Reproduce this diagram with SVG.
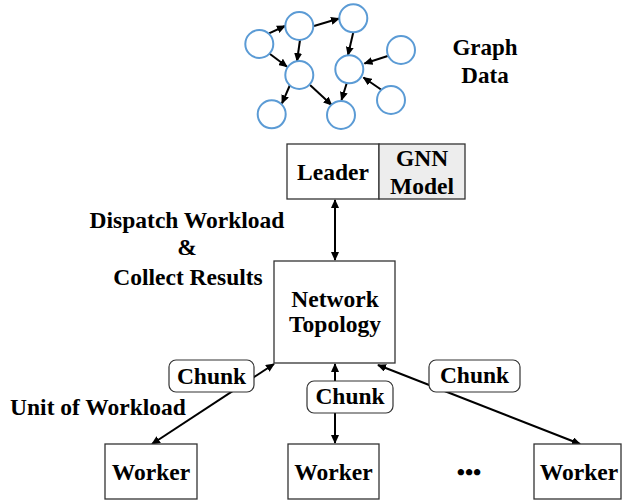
<svg xmlns="http://www.w3.org/2000/svg" width="623" height="502" viewBox="0 0 623 502">
<style>
.t{font-family:"Liberation Serif","Times New Roman",serif;font-weight:bold;font-size:23.5px;fill:#000;text-anchor:middle}
.box{fill:#fff;stroke:#333;stroke-width:1.3}
.lbl{fill:#fff;stroke:#333;stroke-width:1.2}
.n{fill:#fff;stroke:#5b9bd5;stroke-width:2}
.e{stroke:#000;stroke-width:2;fill:none;marker-end:url(#ah)}
.c{stroke:#000;stroke-width:2;fill:none;marker-end:url(#ah);marker-start:url(#ah)}
</style>
<defs>
<marker id="ah" markerWidth="9" markerHeight="8" refX="8" refY="4" orient="auto-start-reverse" markerUnits="userSpaceOnUse">
<path d="M0,0 L9,4 L0,8 Z" fill="#000"/>
</marker>
</defs>
<g id="graph-data">
<g id="graph-edges">
<line class="e" x1="269" y1="33.3" x2="285" y2="26"/>
<line class="e" x1="314" y1="26" x2="339" y2="18.5"/>
<line class="e" x1="300" y1="40" x2="297" y2="61"/>
<line class="e" x1="269" y1="53.3" x2="287" y2="66.7"/>
<line class="e" x1="353.3" y1="32.3" x2="348" y2="55"/>
<line class="e" x1="387.7" y1="56" x2="364.5" y2="63.5"/>
<line class="e" x1="381.7" y1="90" x2="363.5" y2="77.5"/>
<line class="e" x1="290" y1="85" x2="282" y2="103.3"/>
<line class="e" x1="310" y1="85" x2="331.7" y2="105"/>
<line class="e" x1="346.7" y1="83.3" x2="341.5" y2="100"/>
</g>
<circle class="n" cx="259.3" cy="44" r="14"/>
<circle class="n" cx="299.3" cy="26" r="14"/>
<circle class="n" cx="353.3" cy="18.3" r="14"/>
<circle class="n" cx="401" cy="50" r="14"/>
<circle class="n" cx="299.3" cy="75" r="14"/>
<circle class="n" cx="349.3" cy="69.3" r="14"/>
<circle class="n" cx="391" cy="100" r="14"/>
<circle class="n" cx="271.7" cy="114.3" r="14"/>
<circle class="n" cx="341" cy="115" r="14"/>
<text class="t" x="485" y="55" style="font-size:23px">Graph</text>
<text class="t" x="485" y="83" style="font-size:23px">Data</text>
</g>
<g id="connectors">
<line class="c" x1="335" y1="200" x2="335" y2="260"/>
<line class="c" x1="274" y1="364" x2="152" y2="444"/>
<line class="c" x1="335" y1="364" x2="335" y2="443"/>
<line class="c" x1="378" y1="365" x2="580" y2="444"/>
</g>
<g id="leader">
<rect class="box" x="287" y="144" width="92" height="55"/>
<text class="t" x="333" y="180">Leader</text>
</g>
<g id="gnn-model">
<rect x="379" y="144" width="86" height="55" fill="#ededed" stroke="#333" stroke-width="1.3"/>
<text class="t" x="422" y="166">GNN</text>
<text class="t" x="422" y="194">Model</text>
</g>
<g id="dispatch-label">
<text class="t" x="187" y="228">Dispatch Workload</text>
<text class="t" x="187" y="255">&amp;</text>
<text class="t" x="188" y="285">Collect Results</text>
</g>
<g id="network-topology">
<rect class="box" x="274" y="261" width="121" height="102"/>
<text class="t" x="335" y="307">Network</text>
<text class="t" x="335" y="332">Topology</text>
</g>
<g id="chunk-1">
<rect class="lbl" x="169" y="360" width="85" height="32" rx="7"/>
<text class="t" x="211.5" y="384">Chunk</text>
</g>
<g id="chunk-2">
<rect class="lbl" x="307" y="381" width="86" height="32" rx="7"/>
<text class="t" x="350" y="404">Chunk</text>
</g>
<g id="chunk-3">
<rect class="lbl" x="429" y="360" width="91" height="32" rx="7"/>
<text class="t" x="474.5" y="383">Chunk</text>
</g>
<g id="unit-label">
<text class="t" x="98" y="415">Unit of Workload</text>
</g>
<g id="worker-1">
<rect class="box" x="105" y="444" width="92" height="55"/>
<text class="t" x="151" y="480">Worker</text>
</g>
<g id="worker-2">
<rect class="box" x="288" y="444" width="91" height="55"/>
<text class="t" x="333.5" y="480">Worker</text>
</g>
<g id="ellipsis">
<text class="t" x="469" y="480">•••</text>
</g>
<g id="worker-3">
<rect class="box" x="534" y="444" width="87" height="55"/>
<text class="t" x="579" y="480">Worker</text>
</g>
</svg>
